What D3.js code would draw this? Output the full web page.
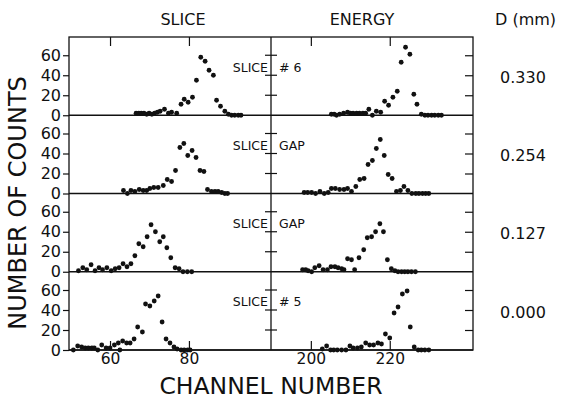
<!DOCTYPE html>
<html>
<head>
<meta charset="utf-8">
<script src="https://cdn.jsdelivr.net/npm/d3@7"></script>
<style>
  html, body { margin: 0; padding: 0; background: #fff; }
  svg { display: block; }
  text { font-family: "DejaVu Sans", sans-serif; fill: #111; }
</style>
</head>
<body>
<svg id="chart" width="561" height="399"></svg>
<script>
// Pulse-height spectra: [channel, counts] for the slice and energy signals
const sliceRow1 = [[66.6,2],[67.3,2],[67.9,2],[68.6,2],[69.3,1],[69.9,2],[70.6,1],[71.3,2],[72.0,3],[72.7,4],[73.8,6],[74.8,2],[75.6,3],[76.9,2],[78.0,11],[78.8,16],[79.8,13],[80.9,18],[81.9,35],[83.0,58],[84.1,54],[85.1,45],[86.2,40],[87.0,15],[88.0,9],[89.1,4],[90.0,1],[90.8,0],[91.6,0],[92.5,0],[93.2,0]];
const energyRow1 = [[205.2,1],[205.9,1],[206.5,0],[207.3,1],[208.3,2],[209.3,3],[210.0,2],[210.7,2],[211.6,2],[212.3,2],[213.2,2],[213.9,2],[214.7,6],[215.6,0],[216.6,4],[217.7,3],[218.7,14],[219.7,10],[220.8,18],[221.9,24],[222.9,53],[224.0,68],[225.1,61],[226.1,21],[226.9,11],[228.0,1],[228.9,0],[229.7,0],[230.6,0],[231.4,0],[232.3,0],[233.1,0]];
const sliceRow2 = [[63.4,3],[64.4,0],[65.3,3],[66.3,2],[67.4,4],[68.4,3],[69.3,3],[70.1,5],[71.1,6],[72.2,6],[73.5,8],[74.5,14],[75.6,12],[76.6,23],[77.7,46],[78.7,50],[79.7,38],[80.8,43],[81.8,36],[82.8,23],[83.8,22],[84.7,4],[85.7,2],[86.6,2],[87.4,2],[88.3,1],[89.1,0],[89.8,0]];
const energyRow2 = [[198.3,1],[199.2,1],[200.2,1],[201.2,0],[202.3,2],[203.4,0],[204.4,1],[205.2,5],[206.2,5],[207.3,4],[208.4,4],[209.3,5],[210.3,2],[211.4,7],[212.4,14],[213.5,15],[214.5,29],[215.6,33],[216.6,45],[217.6,54],[218.6,38],[219.6,19],[220.6,15],[221.7,2],[222.7,3],[223.6,7],[224.6,3],[225.6,0],[226.6,0],[227.4,0],[228.3,0],[229.1,0],[229.9,0]];
const sliceRow3 = [[52.0,1],[53.1,4],[54.1,2],[55.2,7],[56.2,1],[57.2,4],[58.1,2],[59.2,4],[60.3,1],[61.3,3],[62.3,4],[63.3,8],[64.3,5],[65.3,8],[66.3,16],[67.3,28],[68.4,25],[69.4,35],[70.4,47],[71.5,40],[72.6,30],[73.5,35],[74.4,24],[75.4,14],[76.5,4],[77.5,3],[78.5,0],[79.6,0],[80.7,0]];
const energyRow3 = [[197.9,2],[198.7,2],[199.3,1],[200.2,0],[201.0,4],[202.1,6],[203.1,2],[204.2,2],[205.1,5],[206.1,5],[206.9,4],[207.8,3],[208.4,2],[209.3,13],[210.3,12],[211.1,2],[212.2,14],[213.4,22],[214.3,34],[215.4,35],[216.4,40],[217.5,48],[218.4,40],[219.4,12],[220.4,3],[221.3,1],[222.1,0],[223.0,0],[223.8,0],[224.6,0],[225.5,0],[226.5,0]];
const sliceRow4 = [[50.7,0],[51.8,4],[52.8,3],[53.7,2],[54.5,2],[55.4,2],[56.0,2],[56.9,0],[57.9,5],[59.0,2],[60.0,2],[61.1,5],[62.1,7],[62.5,0],[63.2,9],[64.2,7],[65.1,7],[66.1,11],[67.0,23],[68.2,18],[69.0,46],[70.1,44],[71.2,49],[72.2,54],[73.2,28],[74.2,11],[75.2,7],[76.2,3],[77.0,1],[78.0,0],[78.8,0],[79.7,0],[80.3,0]];
const energyRow4 = [[202.9,1],[204.0,4],[205.0,0],[205.8,0],[206.7,0],[207.8,0],[208.9,0],[209.9,4],[210.7,2],[211.8,2],[212.8,3],[213.9,7],[214.9,5],[215.9,5],[217.0,7],[217.9,6],[218.9,16],[220.0,12],[221.1,37],[222.1,43],[223.2,56],[224.4,59],[225.2,23],[226.2,3],[227.2,0],[228.0,0],[228.9,0],[229.9,0]];

const sliceRows = [sliceRow1, sliceRow2, sliceRow3, sliceRow4];
const energyRows = [energyRow1, energyRow2, energyRow3, energyRow4];
const panelLabels = [["SLICE", "# 6"], ["SLICE", "GAP"], ["SLICE", "GAP"], ["SLICE", "# 5"]];
const depthLabels = ["0.330", "0.254", "0.127", "0.000"];
const countTicks = [0, 20, 40, 60];
const sliceTicks = [60, 80];
const energyTicks = [200, 220];
const columnTitles = ["SLICE", "ENERGY"];

const svg = d3.select("#chart");
const plotLeft = 69, plotMid = 271, plotRight = 473, plotTop = 37, plotBottom = 350;
const rowH = (plotBottom - plotTop) / 4;

const xSlice = d3.scaleLinear().domain([49.6, 100.8]).range([plotLeft, plotMid]);
const xEnergy = d3.scaleLinear().domain([189.9, 241.1]).range([plotMid, plotRight]);
const yRow = i => d3.scaleLinear().domain([0, rowH]).range([plotTop + (i + 1) * rowH, plotTop + i * rowH]);

const ink = "#111";
const styleAxis = (g, size) => {
  g.select(".domain").remove();
  g.selectAll("line").attr("stroke", ink).attr("stroke-width", 1.2);
  g.selectAll("text").attr("font-family", "DejaVu Sans, sans-serif").attr("font-size", size).attr("fill", ink);
  g.attr("font-family", null).attr("font-size", null);
};

for (let i = 0; i < 4; i++) {
  const y = yRow(i);
  // left count axis with outward ticks
  svg.append("g").attr("transform", `translate(${plotLeft},0)`)
    .call(d3.axisLeft(y).tickValues(countTicks).tickSize(6).tickPadding(2).tickFormat(d3.format("d")))
    .call(g => styleAxis(g, 16));
  // right border: inward ticks
  svg.append("g").attr("transform", `translate(${plotRight},0)`)
    .call(d3.axisRight(y).tickValues(countTicks.slice(1)).tickSize(-8).tickFormat(""))
    .call(g => styleAxis(g, 10));
  // ticks crossing the column divider
  svg.append("g").selectAll("line").data(countTicks.slice(1)).join("line")
    .attr("x1", plotMid - 6).attr("x2", plotMid + 6)
    .attr("y1", d => y(d)).attr("y2", d => y(d))
    .attr("stroke", ink).attr("stroke-width", 1.2);
  // zero line
  svg.append("line").attr("x1", plotLeft).attr("x2", plotRight)
    .attr("y1", y(0)).attr("y2", y(0)).attr("stroke", ink).attr("stroke-width", 1.3);

  // data points
  svg.append("g").selectAll("circle").data(sliceRows[i]).join("circle")
    .attr("cx", d => xSlice(d[0])).attr("cy", d => y(d[1])).attr("r", 2.4).attr("fill", ink);
  svg.append("g").selectAll("circle").data(energyRows[i]).join("circle")
    .attr("cx", d => xEnergy(d[0])).attr("cy", d => y(d[1])).attr("r", 2.4).attr("fill", ink);

  // panel label split by the divider
  const ly = y(48);
  svg.append("text").attr("x", plotMid - 3).attr("y", ly).attr("dy", "0.35em")
    .attr("text-anchor", "end").attr("font-size", 12.5).text(panelLabels[i][0]);
  svg.append("text").attr("x", plotMid + 8).attr("y", ly).attr("dy", "0.35em")
    .attr("text-anchor", "start").attr("font-size", 12.5).text(panelLabels[i][1]);

  // depth
  svg.append("text").attr("x", 500).attr("y", y(38)).attr("dy", "0.35em")
    .attr("font-size", 16).text(depthLabels[i]);
}

// frame and divider
svg.append("rect").attr("x", plotLeft).attr("y", plotTop).attr("width", plotRight - plotLeft).attr("height", plotBottom - plotTop)
  .attr("fill", "none").attr("stroke", ink).attr("stroke-width", 1.3);
svg.append("line").attr("x1", plotMid).attr("x2", plotMid).attr("y1", plotTop).attr("y2", plotBottom)
  .attr("stroke", ink).attr("stroke-width", 1.3);

// bottom channel axes (ticks pointing inward) and matching top ticks
[[xSlice, sliceTicks], [xEnergy, energyTicks]].forEach(([x, ticks]) => {
  svg.append("g").attr("transform", `translate(0,${plotBottom})`)
    .call(d3.axisBottom(x).tickValues(ticks).tickSizeInner(-9).tickSizeOuter(0).tickPadding(3))
    .call(g => styleAxis(g, 15.5));
  svg.append("g").attr("transform", `translate(0,${plotTop})`)
    .call(d3.axisTop(x).tickValues(ticks).tickSizeInner(-9).tickSizeOuter(0).tickFormat(""))
    .call(g => styleAxis(g, 10));
});

// titles
svg.append("text").attr("x", (plotLeft + plotMid) / 2 + 13).attr("y", 25).attr("text-anchor", "middle")
  .attr("font-size", 16).text(columnTitles[0]);
svg.append("text").attr("x", (plotMid + plotRight) / 2 - 10).attr("y", 25).attr("text-anchor", "middle")
  .attr("font-size", 16).text(columnTitles[1]);
svg.append("text").attr("x", 495).attr("y", 25).attr("font-size", 16).text("D (mm)");
svg.append("text").attr("x", 271).attr("y", 394).attr("text-anchor", "middle")
  .attr("font-size", 23.5).text("CHANNEL NUMBER");
svg.append("text").attr("transform", "translate(26,203) rotate(-90)").attr("text-anchor", "middle")
  .attr("font-size", 24).text("NUMBER OF COUNTS");
</script>
</body>
</html>
